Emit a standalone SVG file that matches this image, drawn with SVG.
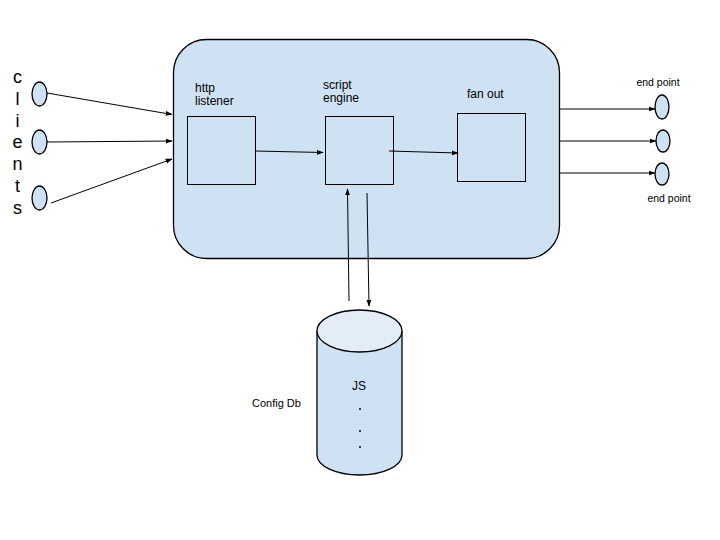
<svg xmlns="http://www.w3.org/2000/svg" width="720" height="540" viewBox="0 0 720 540">
<style>
.shape{fill:#cfe2f3;stroke:#000;stroke-width:1.3}
.top{fill:#e2edf8;stroke:#000;stroke-width:1.3}
.box{fill:none;stroke:#000;stroke-width:1}
.t{font-family:"Liberation Sans",Arial,sans-serif;fill:#000}
.conn line{stroke:#000;stroke-width:1;marker-end:url(#ah)}
</style>
<defs>
<marker id="ah" viewBox="0 0 10 10" refX="9" refY="5" markerWidth="7" markerHeight="7" orient="auto" markerUnits="userSpaceOnUse">
<path d="M0,1.5 L10,5 L0,8.5 Z" fill="#000"/>
</marker>
</defs>
<rect width="720" height="540" fill="#fff"/>

<g id="container">
<rect class="shape" x="173.5" y="39.5" width="386" height="219" rx="33" ry="33"/>
</g>

<g id="clients-label">
<text class="t" font-size="18" text-anchor="middle" x="17.5" y="83">c</text>
<text class="t" font-size="18" text-anchor="middle" x="17.5" y="104.8">l</text>
<text class="t" font-size="18" text-anchor="middle" x="17.5" y="126.6">i</text>
<text class="t" font-size="18" text-anchor="middle" x="17.5" y="148.4">e</text>
<text class="t" font-size="18" text-anchor="middle" x="17.5" y="170.2">n</text>
<text class="t" font-size="18" text-anchor="middle" x="17.5" y="192">t</text>
<text class="t" font-size="18" text-anchor="middle" x="17.5" y="213.8">s</text>
</g>

<g id="client1"><ellipse class="shape" cx="39.5" cy="94" rx="7.5" ry="12"/></g>
<g id="client2"><ellipse class="shape" cx="39.5" cy="142" rx="7.5" ry="12"/></g>
<g id="client3"><ellipse class="shape" cx="39.5" cy="198" rx="7.5" ry="12"/></g>

<g id="http-listener">
<rect class="box" x="187.5" y="116.5" width="68" height="68"/>
<text class="t" font-size="12"><tspan x="195" y="92">http</tspan><tspan x="195" y="105">listener</tspan></text>
</g>

<g id="script-engine">
<rect class="box" x="325.5" y="116.5" width="68" height="68"/>
<text class="t" font-size="12"><tspan x="323" y="89">script</tspan><tspan x="323" y="102">engine</tspan></text>
</g>

<g id="fan-out">
<rect class="box" x="457.5" y="113.5" width="68" height="68"/>
<text class="t" font-size="12" x="467" y="98">fan out</text>
</g>

<g id="endpoint1"><ellipse class="shape" cx="662" cy="107" rx="7" ry="12"/>
<text class="t" font-size="10.5" text-anchor="middle" x="658" y="86">end point</text></g>
<g id="endpoint2"><ellipse class="shape" cx="663" cy="141" rx="7" ry="11"/></g>
<g id="endpoint3"><ellipse class="shape" cx="662" cy="174" rx="7" ry="11"/>
<text class="t" font-size="10.5" text-anchor="middle" x="669" y="202">end point</text></g>

<g id="config-db">
<path class="shape" d="M317,331 L317,455 A42.5,20 0 0 0 402,455 L402,331"/>
<ellipse class="top" cx="359.5" cy="331" rx="42.5" ry="21"/>
<text class="t" font-size="12" text-anchor="middle" x="359" y="390">JS</text>
<circle cx="360" cy="409" r="1" fill="#000"/>
<circle cx="360" cy="431" r="1" fill="#000"/>
<circle cx="360" cy="447" r="1" fill="#000"/>
<text class="t" font-size="11" x="252" y="407">Config Db</text>
</g>

<g id="connectors" class="conn">
<line x1="47" y1="93" x2="172" y2="114.5"/>
<line x1="47" y1="142" x2="172" y2="141"/>
<line x1="51" y1="203" x2="172" y2="159"/>
<line x1="255" y1="151" x2="323" y2="152.5"/>
<line x1="389" y1="151" x2="458" y2="153"/>
<line x1="560" y1="109" x2="655" y2="109"/>
<line x1="560" y1="141" x2="656" y2="141"/>
<line x1="560" y1="173" x2="655" y2="173"/>
<line x1="349" y1="301" x2="347.5" y2="189"/>
<line x1="367" y1="193" x2="369" y2="306"/>
</g>
</svg>
